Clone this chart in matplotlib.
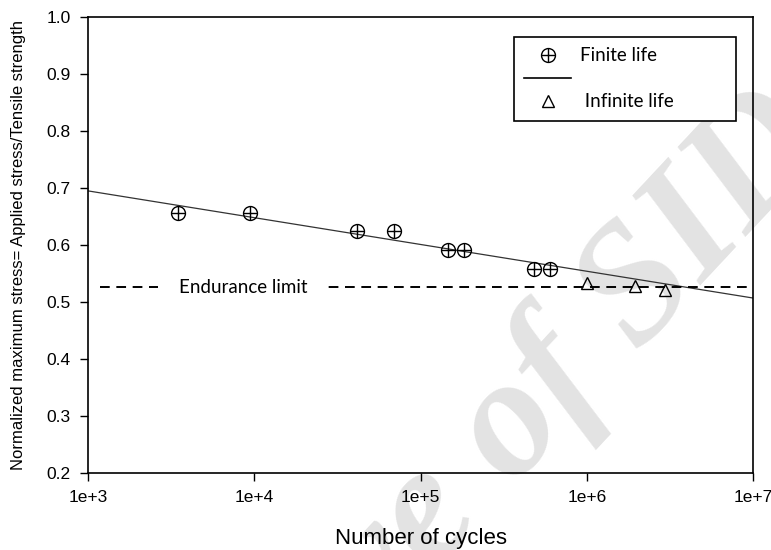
import numpy as np
import matplotlib
matplotlib.use("Agg")
import matplotlib.pyplot as plt
from matplotlib.lines import Line2D
from matplotlib.legend_handler import HandlerTuple

# fatigue test results
finite_cycles = [3.5e3, 9.4e3, 4.15e4, 6.9e4, 1.46e5, 1.83e5, 4.8e5, 6.0e5]
finite_stress = [0.656, 0.656, 0.625, 0.625, 0.591, 0.591, 0.558, 0.558]
infinite_cycles = [1.0e6, 1.95e6, 2.95e6]
infinite_stress = [0.533, 0.528, 0.521]

# fitted S-N line: stress = a + b * log10(N)
fit_a = 0.836
fit_b = -0.047
endurance_limit = 0.526

x_ticks = [1e3, 1e4, 1e5, 1e6, 1e7]
x_tick_labels = ["1e+3", "1e+4", "1e+5", "1e+6", "1e+7"]
y_ticks = [0.2, 0.3, 0.4, 0.5, 0.6, 0.7, 0.8, 0.9, 1.0]

label_font = "Liberation Sans"
note_font = "Lato"

fig = plt.figure(figsize=(7.71, 5.5), dpi=100)
ax = fig.add_axes([0.1141, 0.14, 0.8626, 0.829])
ax.patch.set_alpha(0)

# watermark
fig.text(0.575, 0.075, "Archive of SID", fontsize=122, family="Liberation Serif",
         style="italic", weight="bold", color="#e3e3e3", rotation=47,
         ha="center", va="center", zorder=-5)

fit_x = np.array([1e3, 1e7])
ax.plot(fit_x, fit_a + fit_b * np.log10(fit_x), color="#333333", lw=0.9, zorder=2)
ax.plot([1.18e3, 1e7], [endurance_limit, endurance_limit], color="black", lw=1.4,
        ls=(0, (5, 3.4)), zorder=2)
ax.text(8.6e3, endurance_limit, "Endurance limit", family=note_font, fontsize=13.5,
        ha="center", va="center", zorder=3,
        bbox=dict(facecolor="white", edgecolor="none", pad=15))

ms = 10
ax.plot(finite_cycles, finite_stress, "o", ms=ms, mfc="none", mec="black", mew=1.0, zorder=4)
ax.plot(finite_cycles, finite_stress, "+", ms=ms, mec="black", mew=1.0, zorder=4)
ax.plot(infinite_cycles, infinite_stress, "^", ms=9, mfc="none", mec="black", mew=1.0, zorder=4)

ax.set_xscale("log")
ax.set_xlim(1e3, 1e7)
ax.set_ylim(0.2, 1.0)
ax.set_xticks(x_ticks)
ax.set_xticklabels(x_tick_labels)
ax.xaxis.set_minor_locator(matplotlib.ticker.NullLocator())
ax.set_yticks(y_ticks)
ax.set_yticklabels([f"{v:.1f}" for v in y_ticks])
ax.tick_params(direction="out", length=6, width=1, labelsize=12.5, pad=6.5)
for lab in ax.get_xticklabels() + ax.get_yticklabels():
    lab.set_family(label_font)
for s in ax.spines.values():
    s.set_linewidth(1.2)

ax.set_xlabel("Number of cycles", family=label_font, fontsize=16, labelpad=16)
ax.set_ylabel("Normalized maximum stress= Applied stress/Tensile strength",
              family=label_font, fontsize=12)
ax.yaxis.set_label_coords(-0.0935, 0.5)

h_finite = (Line2D([], [], ls="none", marker="o", ms=ms, mfc="none", mec="black"),
            Line2D([], [], ls="none", marker="+", ms=ms, mec="black"))
h_line = Line2D([], [], color="black", lw=1.2)
h_inf = Line2D([], [], ls="none", marker="^", ms=9, mfc="none", mec="black")
leg = ax.legend([h_finite, h_line, h_inf], ["Finite life", "", " Infinite life"],
                handler_map={tuple: HandlerTuple(ndivide=1)},
                loc="upper left", bbox_to_anchor=(0.6406, 0.7, 0.334, 0.256),
                mode="expand", borderaxespad=0,
                fancybox=False, edgecolor="black", framealpha=1,
                prop={"family": note_font, "size": 13.5}, handlelength=2.5,
                labelspacing=0.32, borderpad=0.55, handletextpad=0.45)
leg.get_frame().set_linewidth(1.2)

fig.savefig("out.png", dpi=100)
